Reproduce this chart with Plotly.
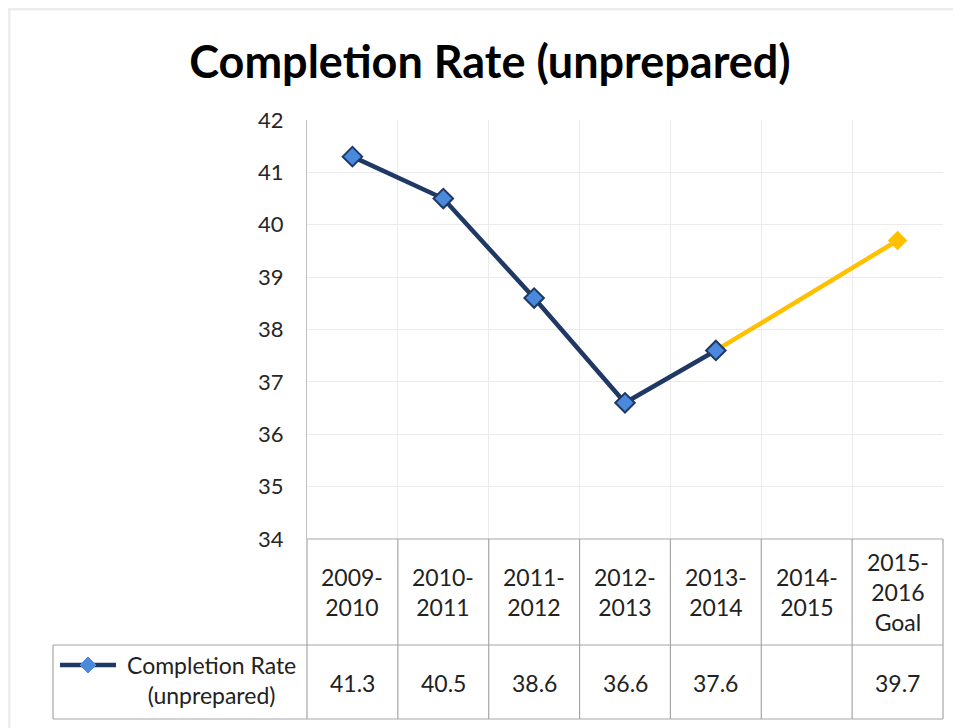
import plotly.graph_objects as go

# ---------------- data ----------------
categories = ["2009-<br>2010", "2010-<br>2011", "2011-<br>2012", "2012-<br>2013",
              "2013-<br>2014", "2014-<br>2015", "2015-<br>2016<br>Goal"]
values = [41.3, 40.5, 38.6, 36.6, 37.6, None, 39.7]
series_name = "Completion Rate<br>(unprepared)"
title_text = "Completion Rate (unprepared)"
y_ticks = [34, 35, 36, 37, 38, 39, 40, 41, 42]

# ---------------- layout constants (screen pixels) ----------------
SCREEN_W, SCREEN_H = 961, 728
OFF = 8  # default page body margin
FIG_W, FIG_H = SCREEN_W - OFF, SCREEN_H - OFF
L, R, T, B = 307, 943, 120, 539
W, H = R - L, B - T
ROW1_BOTTOM = 645
ROW2_BOTTOM = 719
TABLE_LEFT = 53

FONT = "Lato, 'Open Sans', sans-serif"
NAVY = "#1F3864"
BLUE = "#4A89DC"
GOLD = "#FFC000"
BORDER = "#A6A6A6"
GRID = "#EBEBEB"
TXT = "#222222"


def X(px):
    return (px - L) / W


def Y(py):
    return (B - py) / H


actual_idx = [i for i, v in enumerate(values) if v is not None][:-1]
goal_idx = len(values) - 1
last_actual = actual_idx[-1]

fig = go.Figure()

# goal connector (yellow)
fig.add_trace(go.Scatter(
    x=[categories[last_actual], categories[goal_idx]],
    y=[values[last_actual], values[goal_idx]],
    mode="lines+markers",
    line=dict(color=GOLD, width=4.5),
    marker=dict(symbol="diamond", size=15, color=GOLD, line=dict(width=0)),
    hoverinfo="skip", showlegend=False,
))

# actual series (navy)
fig.add_trace(go.Scatter(
    x=[categories[i] for i in actual_idx],
    y=[values[i] for i in actual_idx],
    mode="lines+markers",
    line=dict(color=NAVY, width=4.5),
    marker=dict(symbol="diamond", size=15, color=BLUE,
                line=dict(color=NAVY, width=2)),
    name=series_name.replace("<br>", " "),
    showlegend=False,
))

shapes = []
annotations = []

# outer chart border
shapes.append(dict(type="rect", xref="paper", yref="paper",
                   x0=X(OFF + 1), x1=X(SCREEN_W + 20), y0=Y(OFF + 1), y1=Y(SCREEN_H + 20),
                   line=dict(color="#EEEEEE", width=3), layer="below"))

line_style = dict(color=BORDER, width=1.2)
# table horizontal lines
shapes.append(dict(type="line", xref="paper", yref="paper",
                   x0=X(L), x1=X(R), y0=Y(B), y1=Y(B), line=line_style))
for yy in (ROW1_BOTTOM, ROW2_BOTTOM):
    shapes.append(dict(type="line", xref="paper", yref="paper",
                       x0=X(TABLE_LEFT), x1=X(R), y0=Y(yy), y1=Y(yy), line=line_style))
# left edge of legend cell
shapes.append(dict(type="line", xref="paper", yref="paper",
                   x0=X(TABLE_LEFT), x1=X(TABLE_LEFT), y0=Y(ROW1_BOTTOM), y1=Y(ROW2_BOTTOM),
                   line=line_style))
# column boundaries
n = len(categories)
for k in range(n + 1):
    xb = X(L + W * k / n)
    shapes.append(dict(type="line", xref="paper", yref="paper",
                       x0=xb, x1=xb, y0=Y(B), y1=Y(ROW2_BOTTOM), line=line_style))

# header labels and values
for i, (cat, v) in enumerate(zip(categories, values)):
    annotations.append(dict(x=cat, xref="x", y=Y((B + ROW1_BOTTOM) / 2), yref="paper",
                            text=cat, showarrow=False, xanchor="center", yanchor="middle",
                            font=dict(family=FONT, size=23, color=TXT)))
    annotations.append(dict(x=cat, xref="x", y=Y((ROW1_BOTTOM + ROW2_BOTTOM) / 2 + 1), yref="paper",
                            text="" if v is None else f"{v:.1f}", showarrow=False,
                            xanchor="center", yanchor="middle",
                            font=dict(family=FONT, size=23, color=TXT)))

# legend key in table
LEG_Y = 665
shapes.append(dict(type="line", xref="paper", yref="paper",
                   x0=X(60), x1=X(116), y0=Y(LEG_Y), y1=Y(LEG_Y),
                   line=dict(color=NAVY, width=4.5)))
d = 8
cx = 88
shapes.append(dict(type="path", xref="paper", yref="paper",
                   path=(f"M {X(cx - d)} {Y(LEG_Y)} L {X(cx)} {Y(LEG_Y - d)} "
                         f"L {X(cx + d)} {Y(LEG_Y)} L {X(cx)} {Y(LEG_Y + d)} Z"),
                   fillcolor=BLUE, line=dict(color=BLUE, width=1)))
annotations.append(dict(x=X(211), xref="paper", y=Y(680), yref="paper",
                        text=series_name, showarrow=False, xanchor="center", yanchor="middle",
                        align="center", font=dict(family=FONT, size=23, color=TXT)))

fig.update_layout(
    width=FIG_W, height=FIG_H,
    margin=dict(l=L - OFF, r=SCREEN_W - R, t=T - OFF, b=SCREEN_H - B),
    paper_bgcolor="white", plot_bgcolor="white",
    title=dict(text=f"<b>{title_text}</b>", xref="container", yref="container",
               x=(490 - OFF) / FIG_W, y=1 - (62 - OFF) / FIG_H,
               xanchor="center", yanchor="middle",
               font=dict(family=FONT, size=45, color="#000000")),
    xaxis=dict(type="category", categoryorder="array", categoryarray=categories,
               range=[-0.5, n - 0.5], tickson="boundaries", showticklabels=False,
               ticks="", showgrid=True, gridcolor=GRID, gridwidth=1,
               showline=False, zeroline=False, fixedrange=True),
    yaxis=dict(range=[34, 42], tickvals=y_ticks, showgrid=True, gridcolor=GRID,
               gridwidth=1, showline=True, linecolor="#BFBFBF", linewidth=1,
               ticks="", zeroline=False, ticklabelstandoff=18,
               tickfont=dict(family=FONT, size=22, color="#262626"), fixedrange=True),
    shapes=shapes,
    annotations=annotations,
    showlegend=False,
)

fig.write_html("out.html")
